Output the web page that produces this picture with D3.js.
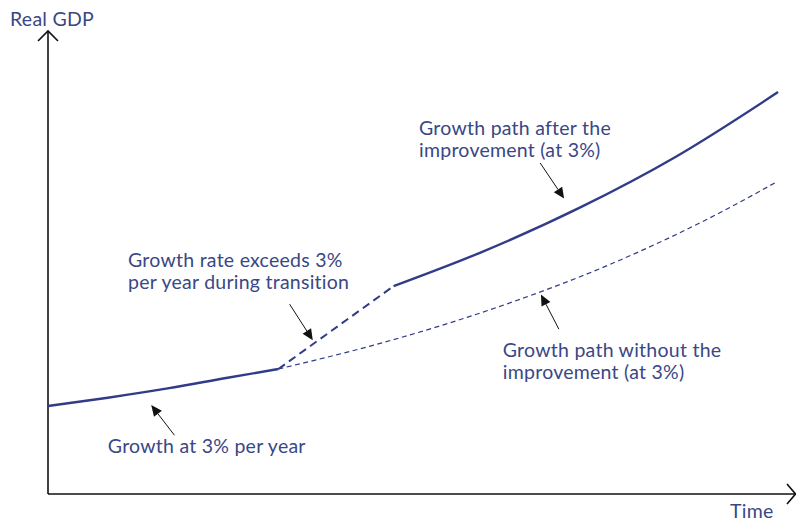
<!DOCTYPE html>
<html>
<head>
<meta charset="utf-8">
<script src="https://cdn.jsdelivr.net/npm/d3@7"></script>
<style>
  html, body { margin: 0; padding: 0; background: #fff; }
  svg { display: block; }
  text { font-family: Lato, "Open Sans", sans-serif; fill: #3a4786; letter-spacing: 0.25px; }
</style>
</head>
<body>
<svg id="chart" width="796" height="522"></svg>
<script>
// ---- Data (time in years, real GDP index) ----
const baseTime      = [0, 8, 16, 24, 30.8];
const baseGDP       = [19.0, 20.8, 22.8, 25.1, 27.0];
const withoutTime   = [30.8, 45, 60, 75, 90, 97.4];
const withoutGDP    = [27.0, 32.8, 40.3, 49.5, 60.9, 67.4];
const transTime     = [30.8, 46.2];
const transGDP      = [27.0, 44.9];
const afterTime     = [46.2, 57.9, 71.3, 84, 97.6];
const afterGDP      = [44.9, 52.2, 62.0, 72.9, 86.8];
const axisLabels    = ["Real GDP", "Time"];
const annotations = [
  { lines: ["Growth at 3% per year"], tx: 8.0, ty: 8.8, ax: 16.9, ay: 12.7, hx: 13.8, hy: 19.2 },
  { lines: ["Growth rate exceeds 3%", "per year during transition"], tx: 10.7, ty: 49.0, ax: 32.3, ay: 41.0, hx: 35.4, hy: 33.2 },
  { lines: ["Growth path after the", "improvement (at 3%)"], tx: 49.6, ty: 77.5, ax: 65.8, ay: 71.5, hx: 69.0, hy: 63.8 },
  { lines: ["Growth path without the", "improvement (at 3%)"], tx: 60.8, ty: 29.5, ax: 68.3, ay: 35.6, hx: 65.9, hy: 43.1 }
];

const svg = d3.select("#chart");
const x = d3.scaleLinear().domain([0, 100]).range([48, 796]);
const y = d3.scaleLinear().domain([0, 100]).range([494, 31]);

const lineColor = "#313c89";
const fs = 19.5;
const pts = (ts, vs) => ts.map((t, i) => [t, vs[i]]);
const line = d3.line().x(d => x(d[0])).y(d => y(d[1])).curve(d3.curveMonotoneX);

// axes
const axisG = svg.append("g").attr("stroke", "#111").attr("stroke-width", 1.6).attr("fill", "none");
axisG.append("path").attr("d", `M${x(0)},${y(0)}V${y(100)}`);
axisG.append("path").attr("d", `M${x(0)},${y(0)}H${x(100)}`);
axisG.append("path").attr("d", `M${x(0)-10},${y(100)+10}L${x(0)},${y(100)}L${x(0)+10},${y(100)+10}`);
axisG.append("path").attr("d", `M${x(100)-9},${y(0)-10}L${x(100)-0.5},${y(0)}L${x(100)-9},${y(0)+10}`);

// series
svg.append("path").datum(pts(withoutTime, withoutGDP)).attr("d", line)
  .attr("fill", "none").attr("stroke", lineColor).attr("stroke-width", 1.2).attr("stroke-dasharray", "5,3.5");
svg.append("path").datum(pts(transTime, transGDP)).attr("d", line)
  .attr("fill", "none").attr("stroke", lineColor).attr("stroke-width", 2).attr("stroke-dasharray", "8,5");
svg.append("path").datum(pts(baseTime, baseGDP)).attr("d", line)
  .attr("fill", "none").attr("stroke", lineColor).attr("stroke-width", 2.4);
svg.append("path").datum(pts(afterTime, afterGDP)).attr("d", line)
  .attr("fill", "none").attr("stroke", lineColor).attr("stroke-width", 2.4);

// axis labels
svg.append("text").attr("x", 10).attr("y", 26).attr("font-size", fs).text(axisLabels[0]);
svg.append("text").attr("x", 730).attr("y", 518).attr("font-size", fs).text(axisLabels[1]);

// annotations
annotations.forEach(a => {
  const t = svg.append("text").attr("x", x(a.tx)).attr("y", y(a.ty)).attr("font-size", fs);
  a.lines.forEach((l, i) => t.append("tspan").attr("x", x(a.tx)).attr("dy", i ? 22 : 0).text(l));
  const x1 = x(a.ax), y1 = y(a.ay), x2 = x(a.hx), y2 = y(a.hy);
  const ang = Math.atan2(y2 - y1, x2 - x1);
  const L = 11, W = 5;
  const bx = x2 - L * Math.cos(ang), by = y2 - L * Math.sin(ang);
  svg.append("line").attr("x1", x1).attr("y1", y1).attr("x2", bx).attr("y2", by)
    .attr("stroke", "#111").attr("stroke-width", 1);
  svg.append("path")
    .attr("d", `M${x2},${y2}L${bx + W * Math.sin(ang)},${by - W * Math.cos(ang)}L${bx - W * Math.sin(ang)},${by + W * Math.cos(ang)}Z`)
    .attr("fill", "#111");
});
</script>
</body>
</html>
